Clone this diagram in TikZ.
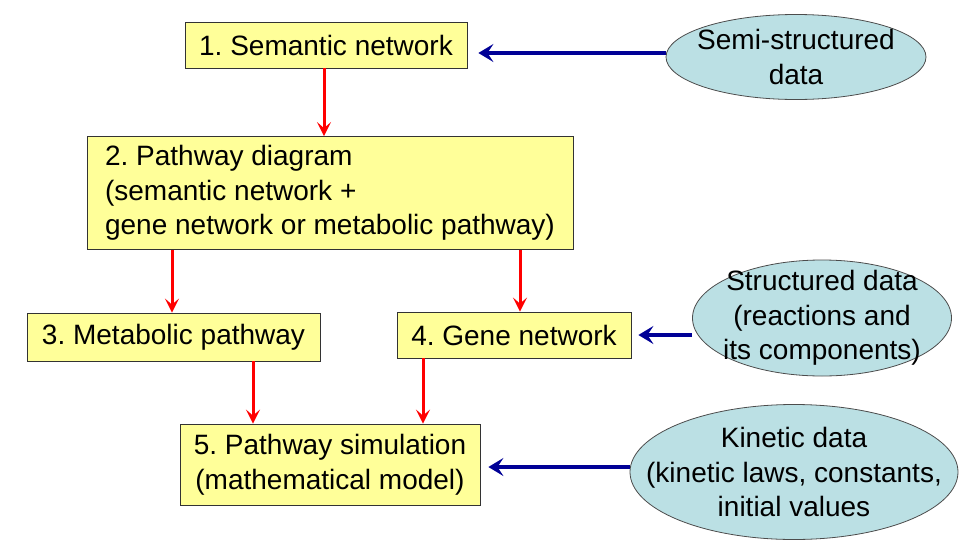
\documentclass[tikz,border=0pt]{standalone}
\usepackage{fontspec}
\setmainfont{Liberation Sans}
\usepackage{xcolor}
\usepackage{tikz}
\usetikzlibrary{arrows.meta,shapes.geometric}
\definecolor{boxfill}{RGB}{255, 255, 153}
\definecolor{datafill}{RGB}{187, 224, 228}
\definecolor{srcblue}{RGB}{0, 0, 150}
\frenchspacing

\begin{document}
\begin{tikzpicture}[x=1pt, y=-1pt,
        every node/.style={font=\fontsize{28}{34.5}\selectfont},
        stepbox/.style={draw=black!80, fill=boxfill, line width=0.8pt, inner sep=0pt},
        datanode/.style={ellipse, draw=black!70, fill=datafill, line width=0.8pt, inner sep=0pt},
        datatext/.style={align=center, inner sep=0pt},
        flow/.style={-{Stealth[length=14pt, width=14pt, inset=6pt]}, red, line width=3pt},
        feed/.style={-{Stealth[length=15pt, width=18pt, inset=6pt]}, srcblue, line width=3.8pt}]
        % 通路建模流程
        \useasboundingbox (0,0) rectangle (967,544);
        \node[stepbox, minimum width=282pt, minimum height=46pt] (sem) at (326,45) {1. Semantic network};
        \node[stepbox, minimum width=486pt, minimum height=113pt, align=left] (path) at (330,193)
            {2. Pathway diagram\\(semantic network +\\gene network or metabolic pathway)};
        \node[stepbox, minimum width=293pt, minimum height=48pt] (meta) at (173.5,337) {3. Metabolic pathway};
        \node[stepbox, minimum width=234pt, minimum height=46pt] (gene) at (514,335) {4. Gene network};
        \node[stepbox, minimum width=300pt, minimum height=81pt, align=center] (sim) at (330,464.5)
            {5. Pathway simulation\\(mathematical model)};
        \node[datanode, minimum width=260pt, minimum height=85pt] (semi) at (796,57) {};
        \node[datatext] (semitext) at (semi) {Semi-structured\\data};
        \node[datanode, minimum width=259pt, minimum height=116pt] (struct) at (822,318) {};
        \node[datatext] (structtext) at (struct) {Structured data\\(reactions and\\its components)};
        \node[datanode, minimum width=328pt, minimum height=135pt] (kin) at (794,472) {};
        \node[datatext] (kintext) at (kin) {Kinetic data\\(kinetic laws, constants,\\initial values};
        \draw[flow] (sem.south -| 324,0) -- (path.north -| 324,0);
        \draw[flow] (path.south -| 172,0) -- (meta.north -| 172,0);
        \draw[flow] (path.south -| 520,0) -- (gene.north -| 520,0);
        \draw[flow] (meta.south -| 253,0) -- (sim.north -| 253,0);
        \draw[flow] (gene.south -| 423,0) -- (sim.north -| 423,0);
        \draw[feed] (semi.west |- 0,53) -- ([xshift=11pt]sem.east |- 0,53);
        \draw[feed] (struct.west |- 0,335) -- ([xshift=7pt]gene.east |- 0,335);
        \draw[feed] (kin.west |- 0,467) -- ([xshift=8pt]sim.east |- 0,467);
\end{tikzpicture}
\end{document}
